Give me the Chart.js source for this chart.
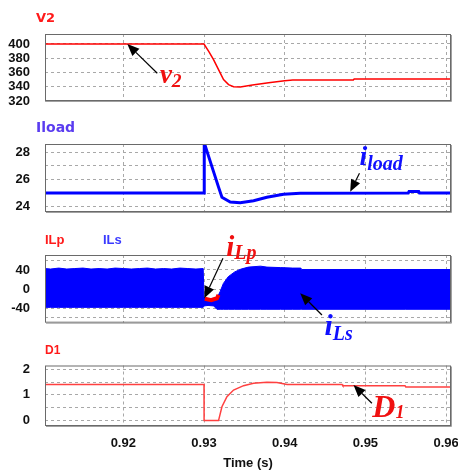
<!DOCTYPE html>
<html><head><meta charset="utf-8">
<script src="https://cdn.jsdelivr.net/npm/chart.js@4/dist/chart.umd.min.js"></script>
<style>
html,body{margin:0;padding:0;background:#fff;width:458px;height:470px;overflow:hidden;position:relative;}
canvas{position:absolute;left:0;}
.t{position:absolute;font-weight:bold;white-space:nowrap;line-height:1;}
</style></head><body>
<canvas id="c1" width="458" height="110" style="top:0px"></canvas>
<canvas id="c2" width="458" height="115" style="top:110px"></canvas>
<canvas id="c3" width="458" height="115" style="top:225px"></canvas>
<canvas id="c4" width="458" height="130" style="top:340px"></canvas>
<div class="t" style="left:36px;top:10px;font:bold 13px 'DejaVu Sans';color:#ff1a1a">V2</div>
<div class="t" style="left:36px;top:119px;font:bold 14px 'DejaVu Sans';color:#5a3cf0">Iload</div>
<div class="t" style="left:45px;top:232px;font:bold 13px 'Liberation Sans';color:#ff1a1a">ILp</div>
<div class="t" style="left:103px;top:232px;font:bold 13px 'Liberation Sans';color:#3a3aff">ILs</div>
<div class="t" style="left:45px;top:343px;font:bold 12px 'Liberation Sans';color:#ff1a1a">D1</div>
<div class="t" style="left:248px;top:455px;transform:translateX(-50%);font:bold 13px 'Liberation Sans';color:#111">Time (s)</div>
<script>
// ---------- data ----------
const timeTicks = [0.92, 0.93, 0.94, 0.95, 0.96];

const v2T = [0.9103, 0.9300, 0.93062, 0.93118, 0.9318, 0.93242, 0.93304, 0.93366, 0.9345, 0.9360, 0.9380, 0.9400, 0.9410, 0.9485, 0.9486, 0.9606];
const v2V = [400, 400, 389, 378, 364, 350, 343, 340, 339.5, 342.5, 345.5, 348.5, 349.3, 349.5, 350.8, 351];
const v2Ticks = [320, 340, 360, 380, 400];
const v2Labels = [320, 340, 360, 380, 400];

const iloadT = [0.9103, 0.9300, 0.93003, 0.93057, 0.93119, 0.9318, 0.93222, 0.93325, 0.93449, 0.93614, 0.93779, 0.93985, 0.94192, 0.9553, 0.9554, 0.9566, 0.9567, 0.9606];
const iloadV = [25, 25, 28.7, 27.7, 26.56, 25.44, 24.69, 24.35, 24.29, 24.44, 24.69, 24.91, 24.98, 25, 25.12, 25.12, 25, 25];
const iloadTicks = [24, 25, 26, 27, 28];
const iloadLabels = [24, 26, 28];

const ilsT = [0.9103,0.9110,0.9120,0.9130,0.9140,0.9150,0.9160,0.9170,0.9180,0.9190,0.9200,0.9210,0.9220,0.9230,0.9240,0.9250,0.9260,0.9270,0.9280,0.9290,0.9299,
              0.9300,0.9305,0.9312,0.9316,0.9320,0.9324,0.9330,0.9338,0.9346,0.9355,0.9370,0.9378,0.9395,0.9410,0.9420,0.9421,0.9500,0.9550,0.9606];
const ilsTop = [43,42,44,42,43,44,42,43,42,44,43,42,43,44,42,43,42,44,43,42,43,
                -18,-20,-19,-19,-5,12,26,36,42,46,48,46,45,44,44,41,41,41,41];
const ilsBot = [-38,-38,-38,-38,-38,-38,-38,-38,-38,-38,-38,-38,-38,-38,-38,-38,-38,-38,-38,-38,-38,
                -35,-34,-35,-42,-42,-42,-42,-42,-42,-42,-42,-42,-42,-42,-42,-42,-42,-42,-42];
const ilpT = [0.9301, 0.9309, 0.9316, 0.9318];
const ilpV = [-20, -23, -19, -12];
const ilTicks = [-60, -40, -20, 0, 20, 40, 60];
const ilLabels = [-40, 0, 40];

const d1T = [0.9103, 0.9300, 0.93001, 0.9318, 0.93222, 0.93284, 0.93366, 0.9349, 0.93614, 0.93779, 0.93903, 0.9403, 0.9471, 0.9472, 0.9549, 0.9550, 0.9606];
const d1V = [1.41, 1.41, 0, 0, 0.54, 0.93, 1.19, 1.36, 1.45, 1.49, 1.48, 1.41, 1.41, 1.36, 1.36, 1.31, 1.31];
const d1Ticks = [0, 0.5, 1, 1.5, 2];
const d1Labels = [0, 1, 2];

// ---------- helpers ----------
const pts = (t, v) => t.map((x, i) => ({x, y: v[i]}));
const tickFont = {family: '"Liberation Sans", Arial, sans-serif', size: 13, weight: 'bold'};

function drawNote(chart, n) {
  const xs = chart.scales.x, ys = chart.scales.y, ctx = chart.ctx;
  const tx = xs.getPixelForValue(n.tail[0]), ty = ys.getPixelForValue(n.tail[1]);
  const hx = xs.getPixelForValue(n.tip[0]), hy = ys.getPixelForValue(n.tip[1]);
  ctx.save();
  ctx.strokeStyle = '#000'; ctx.fillStyle = '#000'; ctx.lineWidth = 1.2;
  const a = Math.atan2(hy - ty, hx - tx), L = n.head || 11, W = (n.head || 11) * 0.42;
  const bx = hx - L * Math.cos(a), by = hy - L * Math.sin(a);
  ctx.beginPath(); ctx.moveTo(tx, ty); ctx.lineTo(bx, by); ctx.stroke();
  ctx.beginPath(); ctx.moveTo(hx, hy);
  ctx.lineTo(bx + W * Math.sin(a), by - W * Math.cos(a));
  ctx.lineTo(bx - W * Math.sin(a), by + W * Math.cos(a));
  ctx.closePath(); ctx.fill();
  const px = xs.getPixelForValue(n.at[0]), py = ys.getPixelForValue(n.at[1]);
  ctx.fillStyle = n.color; ctx.textAlign = 'left'; ctx.textBaseline = 'alphabetic';
  ctx.font = 'italic bold ' + n.size + 'px "Liberation Serif", "Times New Roman", serif';
  ctx.fillText(n.main, px, py);
  const w = ctx.measureText(n.main).width;
  ctx.font = 'italic bold ' + n.subSize + 'px "Liberation Serif", "Times New Roman", serif';
  ctx.fillText(n.sub, px + w + (n.gap || 0), py + n.drop);
  ctx.restore();
}

const frame = {
  id: 'frame',
  afterDraw(chart, args, opts) {
    const {ctx, chartArea: a} = chart;
    ctx.save();
    ctx.strokeStyle = '#6a6a6a'; ctx.lineWidth = 1;
    ctx.strokeRect(a.left + 0.5, a.top + 0.5, a.right - a.left - 1, a.bottom - a.top - 1);
    ctx.strokeStyle = '#a0a0a0';
    ctx.beginPath(); ctx.moveTo(a.left + 1, a.bottom + 0.5); ctx.lineTo(a.right + 0.5, a.bottom + 0.5);
    ctx.lineTo(a.right + 0.5, a.top + 1); ctx.stroke();
    ctx.restore();
    (opts.notes || []).forEach(n => drawNote(chart, n));
  }
};

function makeChart(id, datasets, y, showX, pad, notes) {
  return new Chart(document.getElementById(id), {
    type: 'line',
    data: {datasets},
    options: {
      responsive: false, animation: false, devicePixelRatio: 1,
      layout: {padding: pad},
      elements: {point: {radius: 0}, line: {tension: 0}},
      plugins: {legend: {display: false}, tooltip: {enabled: false}, frame: {notes}},
      scales: {
        x: {
          type: 'linear', min: 0.9103, max: 0.9606,
          afterBuildTicks: s => { s.ticks = timeTicks.map(v => ({value: v})); },
          afterFit: s => { s.paddingLeft = 0; s.paddingRight = 0; s.height = showX ? 44 : 0; },
          grid: {color: '#a8a8a8', lineWidth: 1, drawTicks: false},
          border: {display: false, dash: [3, 3]},
          ticks: {display: showX, padding: 10, maxRotation: 0, autoSkip: false, color: '#111', font: tickFont,
                  callback: v => Number(v).toFixed(2)}
        },
        y: {
          type: 'linear', min: y.min, max: y.max,
          afterBuildTicks: s => { s.ticks = y.ticks.map(v => ({value: v})); },
          afterFit: s => { s.width = 45; s.paddingTop = 0; s.paddingBottom = 0; },
          grid: {color: '#a8a8a8', lineWidth: 1, drawTicks: false},
          border: {display: false, dash: [3, 3]},
          ticks: {padding: 15, autoSkip: false, color: '#111', font: tickFont,
                  callback: v => y.labels.includes(v) ? String(v) : ''}
        }
      }
    },
    plugins: [frame]
  });
}

const RED = '#ff0000', BLUE = '#0000ff';

makeChart('c1',
  [{data: pts(v2T, v2V), borderColor: RED, borderWidth: 1.5, fill: false}],
  {min: 320, max: 414, ticks: v2Ticks, labels: v2Labels}, false,
  {left: 0, right: 7, top: 34, bottom: 9},
  [{tail: [0.92421, 358.9], tip: [0.9205, 400], at: [0.92455, 345.7], color: '#f01010', main: 'v', sub: '2', size: 27, subSize: 19, drop: 4, head: 12}]);

makeChart('c2',
  [{data: pts(iloadT, iloadV), borderColor: BLUE, borderWidth: 3, fill: false}],
  {min: 23.61, max: 28.61, ticks: iloadTicks, labels: iloadLabels}, false,
  {left: 0, right: 7, top: 34, bottom: 13},
  [{tail: [0.94926, 26.456], tip: [0.94811, 25.10], at: [0.94925, 27.07], color: '#1010ff', main: 'i', sub: 'load', size: 28, subSize: 20, drop: 5.5, head: 12}]);

makeChart('c3',
  [{data: pts(ilpT, ilpV), borderColor: RED, borderWidth: 4, fill: false},
   {data: pts(ilsT, ilsTop), borderColor: BLUE, borderWidth: 1, backgroundColor: BLUE, fill: '+1'},
   {data: pts(ilsT, ilsBot), borderColor: BLUE, borderWidth: 1, fill: false}],
  {min: -70, max: 71.3, ticks: ilTicks, labels: ilLabels}, false,
  {left: 0, right: 7, top: 30, bottom: 17.3},
  [{tail: [0.93235, 64.4], tip: [0.93003, -19.1], at: [0.93275, 69.8], color: '#f01010', main: 'i', sub: 'Lp', size: 29, subSize: 20, drop: 3, head: 12},
   {tail: [0.94461, -53.9], tip: [0.94192, -8.6], at: [0.94492, -95.7], color: '#1010ff', main: 'i', sub: 'Ls', size: 30, subSize: 20, drop: 5, head: 12}]);

makeChart('c4',
  [{data: pts(d1T, d1V), borderColor: '#ff4040', borderWidth: 1.5, fill: false}],
  {min: -0.21, max: 2.145, ticks: d1Ticks, labels: d1Labels}, true,
  {left: 0, right: 7, top: 25.5, bottom: 0},
  [{tail: [0.9508, 0.674], tip: [0.94852, 1.386], at: [0.95085, 0.152], color: '#f01010', main: 'D', sub: '1', size: 32, subSize: 18, drop: 1, head: 12}]);
</script>
</body></html>
